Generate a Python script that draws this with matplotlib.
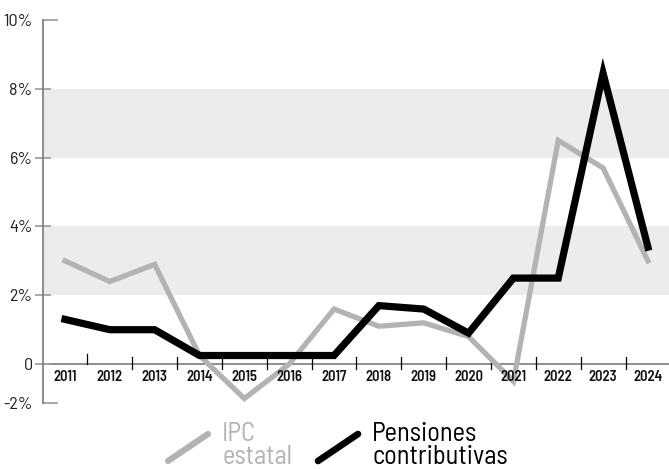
import matplotlib.pyplot as plt
from matplotlib.lines import Line2D

years = list(range(2011, 2025))
ipc = [3.0, 2.4, 2.9, 0.25, -1.0, 0.0, 1.6, 1.1, 1.2, 0.8, -0.5, 6.5, 5.7, 3.0]
pensiones = [1.3, 1.0, 1.0, 0.25, 0.25, 0.25, 0.25, 1.7, 1.6, 0.9, 2.5, 2.5, 8.45, 3.4]
# the bottom label sits at the end of the axis, not at a true -2
yticks = [-1.13, 0, 2, 4, 6, 8, 10]
ylabels = ['-2%', '0', '2%', '4%', '6%', '8%', '10%']

plt.rcParams['font.family'] = ['Barlow Semi Condensed', 'DejaVu Sans']

GRAY = '#b3b3b3'
AXC = '#7a7a7a'

fig = plt.figure(figsize=(6.69, 4.69), dpi=100)
ax = fig.add_axes([43 / 669, 1 - 403 / 469, 1 - 43 / 669, 383 / 469])
ax.set_xlim(2010.51, 2024.47)
ax.set_ylim(-1.13, 10)

# shaded bands
ax.axhspan(2, 4, color='#ececec', lw=0, zorder=0)
ax.axhspan(6, 8, color='#ececec', lw=0, zorder=0)

# zero line and tick marks between years
ax.axhline(0, color=AXC, lw=1.2, zorder=1)
for i, x in enumerate(years[:-1]):
    xm = x + 0.5
    if i == 0:
        ax.plot([xm, xm], [0, 0.3], color='black', lw=0.9, zorder=1)
    else:
        ax.plot([xm, xm], [-0.15, 0.2], color='black', lw=0.9, zorder=1)

ax.plot(years, ipc, color=GRAY, lw=3.8, solid_joinstyle='miter', zorder=2)
ax.plot(years, pensiones, color='black', lw=5.2, solid_joinstyle='miter', zorder=3)

for x in years:
    ax.text(x, -0.38, str(x), ha='center', va='center', fontsize=10.5,
            fontweight='semibold', color='#111111')

for s in ['top', 'right', 'bottom']:
    ax.spines[s].set_visible(False)
ax.spines['left'].set_color(AXC)
ax.spines['left'].set_linewidth(1.2)
ax.set_xticks([])
ax.set_yticks(yticks)
ax.set_yticklabels(ylabels)
ax.tick_params(axis='y', direction='inout', length=11, width=1.3, color='#a0a0a0',
               pad=2, labelsize=13, labelcolor='#222222')
# end ticks point inwards only
yt = ax.yaxis.get_major_ticks()
for t in (yt[0], yt[-1]):
    t.tick1line.set_visible(False)
for yv in (yticks[0], yticks[-1]):
    ax.plot([0, 14 / 626], [yv, yv], color='#a0a0a0', lw=1.3,
            transform=ax.get_yaxis_transform(), clip_on=False, zorder=1)

# legend drawn by hand
fig.add_artist(Line2D([168 / 669, 208 / 669], [1 - 461 / 469, 1 - 434 / 469],
                      color=GRAY, lw=4.5, solid_capstyle='round'))
fig.add_artist(Line2D([318 / 669, 358 / 669], [1 - 461 / 469, 1 - 434 / 469],
                      color='black', lw=4.8, solid_capstyle='round'))
fig.text(222 / 669, 1 - 441 / 469, 'IPC', fontsize=19, color=GRAY, va='baseline')
fig.text(222 / 669, 1 - 464 / 469, 'estatal', fontsize=19, color=GRAY, va='baseline')
fig.text(372 / 669, 1 - 441 / 469, 'Pensiones', fontsize=19, color='black', va='baseline')
fig.text(372 / 669, 1 - 464 / 469, 'contributivas', fontsize=19, color='black', va='baseline')

fig.savefig('out.png', dpi=100)
